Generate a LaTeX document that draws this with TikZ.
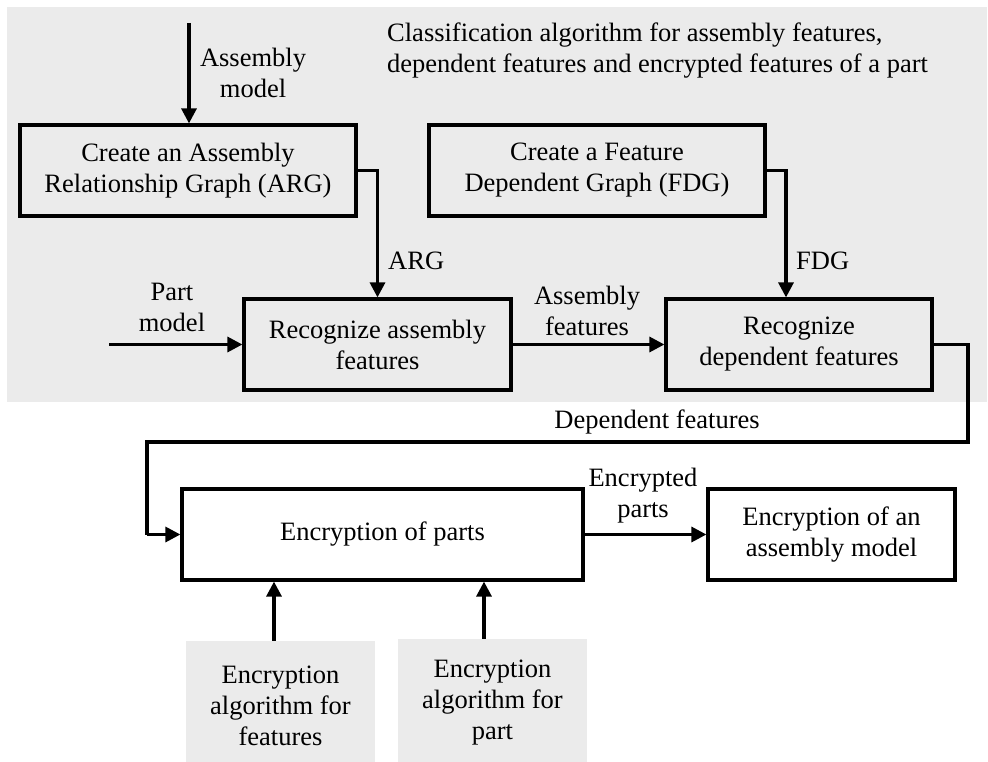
\documentclass[tikz,border=0pt]{standalone}
\usepackage{fontspec}
\setmainfont{Liberation Serif}
\usetikzlibrary{arrows.meta}
\definecolor{bggray}{HTML}{EBEBEB}
\begin{document}
\begin{tikzpicture}[x=1pt,y=-1pt,
  every node/.style={font=\fontsize{26.5}{31}\selectfont},
  procbox/.style={draw=black, line width=3.2pt, fill=none, inner sep=0pt, align=center, minimum height=91pt},
  graybox/.style={fill=bggray, inner sep=0pt, align=center},
  lbl/.style={align=center, inner sep=0pt},
  arr/.style={line width=3.2pt, -{Triangle[length=15pt,width=15pt]}},
  conn/.style={line width=3.2pt}]
\useasboundingbox (0,0) rectangle (988,762);
\fill[bggray] (7,7) rectangle (987,402);

\node[procbox, minimum width=336pt] (arg) at (188,170.5) {Create an Assembly\\Relationship Graph (ARG)};
\node[procbox, minimum width=336pt] (fdg) at (597,170.5) {Create a Feature\\Dependent Graph (FDG)};
\node[procbox, minimum width=267pt] (ra) at (377.5,344.5) {Recognize assembly\\features};
\node[procbox, minimum width=266pt] (rd) at (799,344.5) {Recognize\\dependent features};
\node[procbox, minimum width=401pt] (ep) at (382.5,534.5) {Encryption of parts};
\node[procbox, minimum width=247pt] (ea) at (831.5,534.5) {Encryption of an\\assembly model};
\node[graybox, minimum width=189pt, minimum height=130pt] (g1) at (280.5,706) {Encryption\\algorithm for\\features};
\node[graybox, minimum width=189pt, minimum height=128pt] (g2) at (492.5,703) {Encryption\\algorithm for\\part};

\node[anchor=west, align=left, inner sep=0pt] (title) at (387,51) {Classification algorithm for assembly features,\\dependent features and encrypted features of a part};

\coordinate (amstart) at (189,23);
\coordinate (pmstart) at (109,344.5);
\coordinate (dfright) at (968,344.5);
\coordinate (dfleft) at (147,442);

\draw[arr] (amstart) -- (amstart |- arg.north);
\node[lbl] (amlbl) at (253,73) {Assembly\\model};

\draw[arr] (arg.east) -| (ra.north);
\node[lbl, anchor=west] (arglbl) at (388,261) {ARG};

\draw[arr] (fdg.east) -| ([xshift=-13pt]rd.north);
\node[lbl, anchor=west] (fdglbl) at (796,261) {FDG};

\draw[arr] (pmstart) -- (ra.west);
\node[lbl] (pmlbl) at (172,307) {Part\\model};

\draw[arr] (ra.east) -- (rd.west);
\node[lbl] (aflbl) at (587,311) {Assembly\\features};

\draw[conn] (rd.east) -- (dfright) -- (dfright |- dfleft) -- (dfleft) -- (dfleft |- ep.west);
\draw[arr] (dfleft |- ep.west) -- (ep.west);
\node[lbl] (dflbl) at (657,422) {Dependent features};

\draw[arr] (ep.east) -- (ea.west);
\node[lbl] (eplbl) at (643,496) {Encrypted\\parts};

\draw[arr] ([xshift=-6.5pt]g1.north) -- ([xshift=-6.5pt]g1.north |- ep.south);
\draw[arr] ([xshift=-8.5pt]g2.north) -- ([xshift=-8.5pt]g2.north |- ep.south);
\end{tikzpicture}
\end{document}
